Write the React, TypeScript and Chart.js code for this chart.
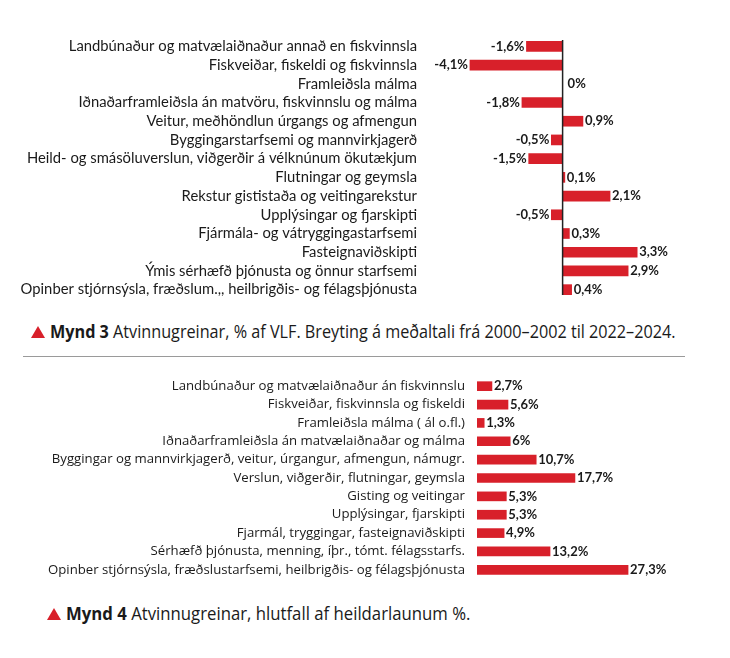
import React, { useEffect, useRef } from "react";
import { Chart, registerables } from "chart.js";

Chart.register(...registerables);

const categories1 = [
  "Landbúnaður og matvælaiðnaður annað en fiskvinnsla",
  "Fiskveiðar, fiskeldi og fiskvinnsla",
  "Framleiðsla málma",
  "Iðnaðarframleiðsla án matvöru, fiskvinnslu og málma",
  "Veitur, meðhöndlun úrgangs og afmengun",
  "Byggingarstarfsemi og mannvirkjagerð",
  "Heild- og smásöluverslun, viðgerðir á vélknúnum ökutækjum",
  "Flutningar og geymsla",
  "Rekstur gististaða og veitingarekstur",
  "Upplýsingar og fjarskipti",
  "Fjármála- og vátryggingastarfsemi",
  "Fasteignaviðskipti",
  "Ýmis sérhæfð þjónusta og önnur starfsemi",
  "Opinber stjórnsýsla, fræðslum.,, heilbrigðis- og félagsþjónusta",
];
const values1 = [-1.6, -4.1, 0, -1.8, 0.9, -0.5, -1.5, 0.1, 2.1, -0.5, 0.3, 3.3, 2.9, 0.4];

const categories2 = [
  "Landbúnaður og matvælaiðnaður án fiskvinnslu",
  "Fiskveiðar, fiskvinnsla og fiskeldi",
  "Framleiðsla málma ( ál o.fl.)",
  "Iðnaðarframleiðsla án matvælaiðnaðar og málma",
  "Byggingar og mannvirkjagerð, veitur, úrgangur, afmengun, námugr.",
  "Verslun, viðgerðir, flutningar, geymsla",
  "Gisting og veitingar",
  "Upplýsingar, fjarskipti",
  "Fjarmál, tryggingar, fasteignaviðskipti",
  "Sérhæfð þjónusta, menning, íþr., tómt. félagsstarfs.",
  "Opinber stjórnsýsla, fræðslustarfsemi, heilbrigðis- og félagsþjónusta",
];
const values2 = [2.7, 5.6, 1.3, 6, 10.7, 17.7, 5.3, 5.3, 4.9, 13.2, 27.3];

const caption1Bold = "Mynd 3";
const caption1Text = " Atvinnugreinar, % af VLF. Breyting á meðaltali frá 2000–2002 til 2022–2024.";
const caption2Bold = "Mynd 4";
const caption2Text = " Atvinnugreinar, hlutfall af heildarlaunum %.";

const RED = "#d8202a";
const TEXT = "#1a1a1a";

const fmt = (v: number) => String(v).replace(".", ",") + "%";

const valueLabelPlugin = {
  id: "valueLabels",
  afterDatasetsDraw(chart: any, _args: any, opts: any) {
    const ctx = chart.ctx;
    const meta = chart.getDatasetMeta(0);
    const data = chart.data.datasets[0].data as number[];
    ctx.save();
    ctx.font = opts.font || "bold 13px Lato";
    ctx.fillStyle = TEXT;
    ctx.textBaseline = "middle";
    meta.data.forEach((el: any, i: number) => {
      const v = data[i];
      const gap = opts.gap ?? 2;
      if (v < 0) {
        ctx.textAlign = "right";
        ctx.fillText(fmt(v), el.x - gap, el.y);
      } else if (v === 0) {
        ctx.textAlign = "left";
        ctx.fillText(fmt(v), el.x + (opts.zeroGap ?? 5), el.y);
      } else {
        ctx.textAlign = "left";
        ctx.fillText(fmt(v), el.x + gap, el.y);
      }
    });
    ctx.restore();
  },
};

const zeroLinePlugin = {
  id: "zeroLine",
  afterDatasetsDraw(chart: any, _args: any, opts: any) {
    if (!opts || !opts.show) return;
    const ctx = chart.ctx;
    const x = chart.scales.x.getPixelForValue(0);
    ctx.save();
    ctx.strokeStyle = "#222";
    ctx.lineWidth = 1.5;
    ctx.beginPath();
    ctx.moveTo(x, chart.chartArea.top + 3);
    ctx.lineTo(x, chart.chartArea.bottom - 4);
    ctx.stroke();
    ctx.restore();
  },
};

function BarChart(props: {
  labels: string[];
  values: number[];
  width: number;
  height: number;
  axisWidth: number;
  min: number;
  max: number;
  padRight: number;
  tickFont: any;
  tickPad: number;
  barThickness: number;
  zeroLine: boolean;
}) {
  const ref = useRef<HTMLCanvasElement | null>(null);
  useEffect(() => {
    let chart: Chart | null = null;
    let cancelled = false;
    const make = () => {
      if (cancelled || !ref.current) return;
      chart = new Chart(ref.current, {
        type: "bar",
        data: {
          labels: props.labels,
          datasets: [
            {
              data: props.values,
              backgroundColor: RED,
              borderWidth: 0,
              barThickness: props.barThickness,
            },
          ],
        },
        options: {
          indexAxis: "y",
          animation: false,
          responsive: false,
          layout: { padding: { left: 0, right: props.padRight, top: 0, bottom: 0 } },
          plugins: {
            legend: { display: false },
            tooltip: { enabled: false },
            valueLabels: { font: "bold 13px Lato", gap: 2, zeroGap: 5 },
            zeroLine: { show: props.zeroLine },
          } as any,
          scales: {
            x: {
              display: false,
              min: props.min,
              max: props.max,
            },
            y: {
              grid: { display: false, drawTicks: false },
              border: { display: false },
              ticks: {
                color: TEXT,
                font: props.tickFont,
                padding: props.tickPad,
                autoSkip: false,
              },
              afterFit: (scale: any) => {
                scale.width = props.axisWidth;
                scale.paddingTop = 0;
                scale.paddingBottom = 0;
              },
            },
          },
        },
        plugins: [valueLabelPlugin, zeroLinePlugin],
      });
    };
    const fonts = (document as any).fonts;
    if (fonts && fonts.load) {
      Promise.all([
        fonts.load("13px Lato"),
        fonts.load("bold 13px Lato"),
        fonts.load("13px 'Open Sans'"),
      ])
        .catch(() => {})
        .then(make);
    } else {
      make();
    }
    return () => {
      cancelled = true;
      if (chart) chart.destroy();
    };
  }, []);
  return <canvas ref={ref} width={props.width} height={props.height} style={{ display: "block" }} />;
}

function Caption(props: { bold: string; text: string; left: number; top: number; squeeze: number }) {
  return (
    <div
      style={{
        position: "absolute",
        left: props.left,
        top: props.top,
        whiteSpace: "nowrap",
        display: "flex",
        alignItems: "center",
        color: TEXT,
      }}
    >
      <div
        style={{
          width: 0,
          height: 0,
          borderLeft: "7px solid transparent",
          borderRight: "7px solid transparent",
          borderBottom: "12px solid " + RED,
          marginRight: 5,
          marginTop: 1,
        }}
      />
      <span
        style={{
          display: "inline-block",
          fontFamily: "'Open Sans', sans-serif",
          fontSize: 18,
          lineHeight: "22px",
          transform: "scaleX(" + props.squeeze + ")",
          transformOrigin: "left center",
        }}
      >
        <span style={{ fontWeight: "bold" }}>{props.bold}</span>
        <span>{props.text}</span>
      </span>
    </div>
  );
}

export default function App() {
  return (
    <div
      style={{
        position: "absolute",
        left: 0,
        top: 0,
        width: 730,
        height: 658,
        background: "#fff",
        overflow: "hidden",
      }}
    >
      <div style={{ position: "absolute", left: 0, top: 37 }}>
        <BarChart
          labels={categories1}
          values={values1}
          width={730}
          height={262}
          axisWidth={427}
          min={-6}
          max={4}
          padRight={77}
          tickFont={{ family: "Lato", size: 14.8 }}
          tickPad={10}
          barThickness={10}
          zeroLine={true}
        />
      </div>
      <Caption bold={caption1Bold} text={caption1Text} left={31} top={320} squeeze={0.9} />
      <div
        style={{
          position: "absolute",
          left: 23,
          top: 356,
          width: 662,
          height: 0,
          borderTop: "1.5px solid #9a9a9a",
        }}
      />
      <div style={{ position: "absolute", left: 0, top: 377 }}>
        <BarChart
          labels={categories2}
          values={values2}
          width={730}
          height={202}
          axisWidth={477}
          min={0}
          max={30}
          padRight={87}
          tickFont={{ family: "Open Sans", size: 13.2 }}
          tickPad={12}
          barThickness={9}
          zeroLine={false}
        />
      </div>
      <Caption bold={caption2Bold} text={caption2Text} left={47} top={602} squeeze={0.93} />
    </div>
  );
}
